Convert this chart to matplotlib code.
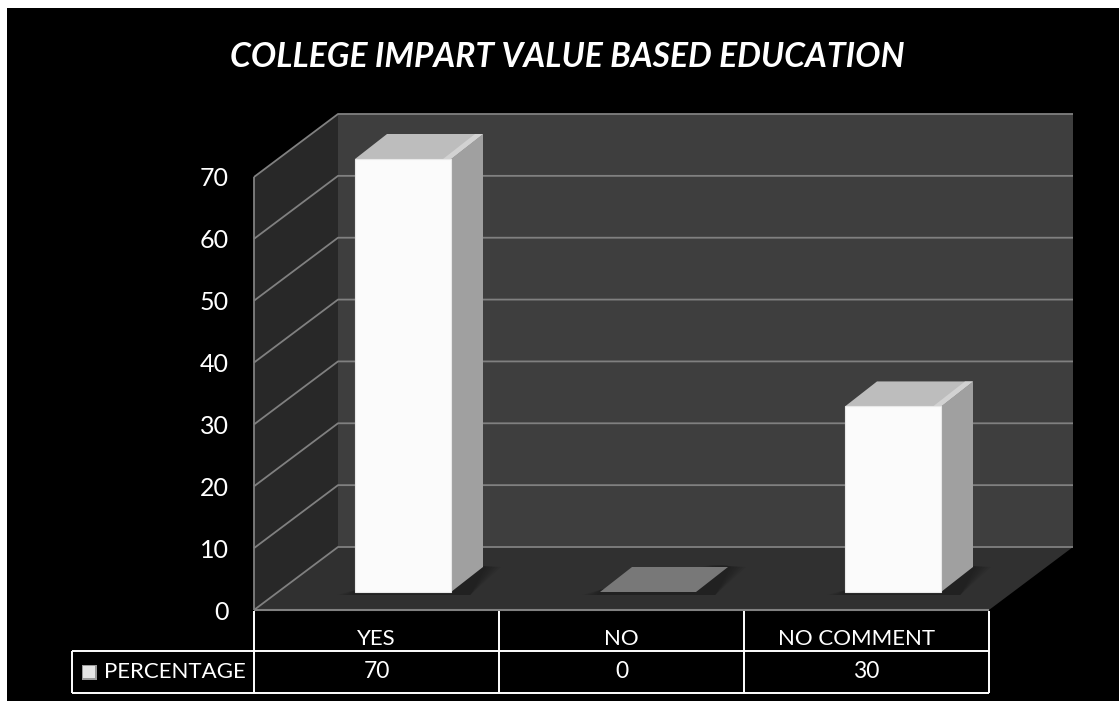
import matplotlib
matplotlib.use("Agg")
import matplotlib.pyplot as plt
from matplotlib.patches import Polygon, Rectangle
from matplotlib.transforms import ScaledTranslation
import numpy as np

# data
categories = ["YES", "NO", "NO COMMENT"]
values = [70, 0, 30]
y_ticks = [0, 10, 20, 30, 40, 50, 60, 70]
series_name = "PERCENTAGE"
title = "COLLEGE IMPART VALUE BASED EDUCATION"

W, H = 1119, 702
plt.rcParams["font.family"] = ["Lato", "DejaVu Sans"]

fig = plt.figure(figsize=(W / 100, H / 100), dpi=100, facecolor="white")
# black picture area, white margin on top and left
fig.patches.append(Rectangle((7 / W, 1 / H), 1, (H - 9) / H, transform=fig.transFigure,
                             fc="black", ec="none", zorder=-5))

# axes = front plane of the 3d box
ax = fig.add_axes([254 / W, (H - 610) / H, 735 / W, 433 / H])
ax.set_xlim(0, len(categories))
ax.set_ylim(0, 70)
ax.patch.set_visible(False)
for s in ax.spines.values():
    s.set_visible(False)

ux = 735 / len(categories)
uy = 433 / 70
px = lambda p: p / ux
py = lambda p: p / uy

n = len(categories)
depth_x, depth_y = px(84), py(63)


def poly(pts, color, z, alpha=1.0):
    ax.add_patch(Polygon(pts, closed=True, fc=color, ec="none", alpha=alpha,
                         zorder=z, clip_on=False))


def line(xs, ys, color="#808080", lw=1.3, z=2):
    ax.plot(xs, ys, color=color, lw=lw, zorder=z, clip_on=False, solid_capstyle="butt")


# walls and floor
top = y_ticks[-1]
poly([(depth_x, depth_y), (n + depth_x, depth_y), (n + depth_x, top + depth_y), (depth_x, top + depth_y)], "#3e3e3e", 1)
poly([(0, 0), (depth_x, depth_y), (depth_x, top + depth_y), (0, top)], "#282828", 1)
poly([(0, 0), (n, 0), (n + depth_x, depth_y), (depth_x, depth_y)], "#303030", 1)

# gridlines
for t in y_ticks:
    line([0, depth_x, n + depth_x], [t, t + depth_y, t + depth_y])
line([0, 0], [0, top])
line([0, n], [0, 0], lw=1.5, z=3)

# bars
bar_off = px(101)
bar_w = px(96)
base = py(18)
bar_dx, bar_dy = px(32), py(25)
for i, v in enumerate(values):
    x0 = i + bar_off
    x1 = x0 + bar_w
    # soft shadow on the floor
    for k in range(6):
        g = px(3 * (6 - k))
        poly([(x0 - g, base - py(3)), (x1 + bar_dx * 0.6, base - py(3)),
              (x1 + bar_dx + g, base + bar_dy), (x1 + bar_dx - g, base + bar_dy + py(2)),
              (x0, base + py(2))], "#000000", 4, alpha=0.05)
    if v == 0:
        poly([(x0, base), (x1, base), (x1 + bar_dx, base + bar_dy), (x0 + bar_dx, base + bar_dy)], "#787878", 5)
        continue
    poly([(x1, base), (x1 + bar_dx, base + bar_dy), (x1 + bar_dx, base + v + bar_dy), (x1, base + v)], "#a0a0a0", 5)
    poly([(x0, base + v), (x1, base + v), (x1 + bar_dx, base + v + bar_dy), (x0 + bar_dx, base + v + bar_dy)], "#bdbdbd", 5)
    # lighter bevel along the right edge of the top face
    poly([(x1 - px(8), base + v), (x1, base + v), (x1 + bar_dx, base + v + bar_dy), (x1 + bar_dx - px(8), base + v + bar_dy)],
         "#d2d2d2", 5)
    ax.add_patch(Rectangle((x0, base), bar_w, v, fc="#fbfbfb", ec="#e8e8e8", lw=0.8, zorder=6, clip_on=False))

# axis labels
ax.set_yticks(y_ticks)
ax.set_yticklabels([str(t) for t in y_ticks])
ax.tick_params(axis="y", length=0, pad=18, labelcolor="white", labelsize=18)
ax.set_xticks([i + 0.5 for i in range(n)])
ax.set_xticklabels(categories)
ax.tick_params(axis="x", length=0, pad=14, labelcolor="white", labelsize=16)
# the long label sits a bit left of its column
last = ax.get_xticklabels()[-1]
last.set_transform(last.get_transform() + ScaledTranslation(-0.1, 0, fig.dpi_scale_trans))

# data table under the axis
row1, row2 = -py(41), -py(83)
left = -px(182)
tc = "white"
line([left, n], [row1, row1], tc, 1.4, 3)
line([left, n], [row2, row2], tc, 1.4, 3)
line([left, left], [row1, row2], tc, 1.4, 3)
for i in range(n + 1):
    line([i, i], [-py(1), row2], tc, 1.4, 3)

for i, v in enumerate(values):
    ax.text(i + 0.5, (row1 + row2) / 2, str(v), color="white", fontsize=16.5, ha="center", va="center", clip_on=False)
ax.text(-px(150), (row1 + row2) / 2, series_name, color="white", fontsize=16, ha="left", va="center", clip_on=False)

# legend key
kx, ky, ks = -px(172), -py(70), 15
ax.add_patch(Rectangle((kx, ky), px(ks), py(ks), fc="#9a9a9a", ec="none", zorder=4, clip_on=False))
ax.add_patch(Rectangle((kx + px(1), ky + py(2)), px(ks - 3), py(ks - 3), fc="#e6e6e6", ec="none", zorder=5, clip_on=False))

fig.text(567 / W, (H - 57) / H, title, color="white", fontsize=24.2, fontweight="bold",
         fontstyle="italic", ha="center", va="center")

fig.savefig("out.png", dpi=100, facecolor=fig.get_facecolor())
